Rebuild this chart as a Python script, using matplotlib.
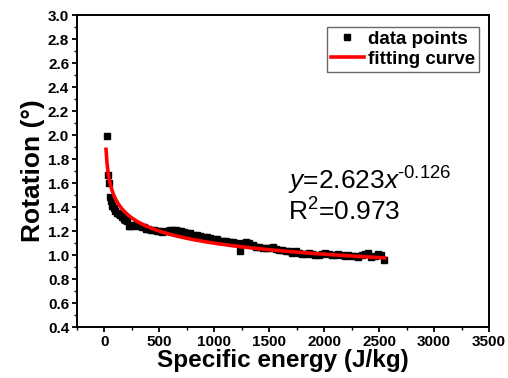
import numpy as np
import matplotlib
matplotlib.use("Agg")
import matplotlib.pyplot as plt
from matplotlib.ticker import MultipleLocator

plt.rcParams['font.family'] = ['Liberation Sans', 'DejaVu Sans']
plt.rcParams['mathtext.fontset'] = 'custom'
plt.rcParams['mathtext.rm'] = 'Liberation Sans'
plt.rcParams['mathtext.it'] = 'Liberation Sans:italic'
plt.rcParams['mathtext.bf'] = 'Liberation Sans:bold'

# Data points (specific energy J/kg, rotation deg)
energy = [20, 30, 40, 50, 60, 70, 85, 100, 115, 130, 145, 160, 175, 190, 205,
          220, 235, 250, 265, 280, 300, 320, 340, 360, 380, 400, 425, 450, 475,
          500, 525, 550, 575, 600, 625, 650, 675, 700, 725, 750, 780, 810, 840,
          870, 900, 930, 960, 990, 1020, 1050, 1080, 1110, 1140, 1170, 1200,
          1230, 1260, 1290, 1320, 1350, 1380, 1410, 1440, 1470, 1500, 1530,
          1560, 1590, 1620, 1650, 1680, 1710, 1740, 1770, 1800, 1830, 1860,
          1890, 1920, 1950, 1980, 2010, 2040, 2070, 2100, 2130, 2160, 2190,
          2220, 2250, 2280, 2310, 2340, 2370, 2400, 2430, 2460, 2490, 2520, 2545]
rotation = [1.99, 1.67, 1.60, 1.48, 1.45, 1.41, 1.39, 1.37, 1.35, 1.34, 1.33,
            1.32, 1.30, 1.29, 1.28, 1.24, 1.24, 1.25, 1.24, 1.25, 1.25, 1.24,
            1.23, 1.23, 1.22, 1.22, 1.21, 1.21, 1.20, 1.20, 1.19, 1.20, 1.20,
            1.21, 1.21, 1.21, 1.20, 1.20, 1.19, 1.18, 1.18, 1.17, 1.17, 1.16,
            1.15, 1.15, 1.14, 1.13, 1.13, 1.12, 1.12, 1.12, 1.11, 1.11, 1.10,
            1.03, 1.10, 1.11, 1.10, 1.08, 1.07, 1.07, 1.06, 1.06, 1.06, 1.07,
            1.05, 1.04, 1.04, 1.03, 1.03, 1.02, 1.03, 1.02, 1.01, 1.01, 1.02,
            1.01, 1.00, 1.00, 1.01, 1.02, 1.01, 1.00, 1.00, 1.01, 1.00, 0.99,
            1.00, 0.99, 0.99, 0.98, 1.00, 1.01, 1.02, 0.98, 0.99, 1.01, 1.00, 0.96]

# Power-law fit y = a * x^b
fit_a = 2.623
fit_b = -0.126
fit_xmin, fit_xmax = 14, 2550

xticks = [0, 500, 1000, 1500, 2000, 2500, 3000, 3500]
yticks = [0.4, 0.6, 0.8, 1.0, 1.2, 1.4, 1.6, 1.8, 2.0, 2.2, 2.4, 2.6, 2.8, 3.0]

fig = plt.figure(figsize=(5.08, 3.78), dpi=100)
ax = fig.add_axes([0.1516, 0.1349, 0.8110, 0.8254])

ax.plot(energy, rotation, 's', color='black', markersize=4.3, label='data points',
        zorder=2)
xf = np.linspace(fit_xmin, fit_xmax, 600)
ax.plot(xf, fit_a * xf ** fit_b, '-', color='#ff0000', lw=2.6, label='fitting curve',
        zorder=3)

ax.set_xlim(-250, 3500)
ax.set_ylim(0.4, 3.0)
ax.set_xticks(xticks)
ax.set_yticks(yticks)
ax.set_xticklabels([str(v) for v in xticks])
ax.set_yticklabels([f"{v:.1f}" for v in yticks])
ax.xaxis.set_minor_locator(MultipleLocator(250))
ax.yaxis.set_minor_locator(MultipleLocator(0.1))
ax.tick_params(which='major', direction='out', length=3.6, width=1.3,
               labelsize=11, pad=2)
ax.tick_params(which='minor', direction='out', length=2, width=1.0)
for lab in ax.get_xticklabels() + ax.get_yticklabels():
    lab.set_fontweight('bold')
for s in ax.spines.values():
    s.set_linewidth(1.4)

ax.set_xlabel('Specific energy (J/kg)', fontsize=17.5, fontweight='bold', labelpad=0)
ax.set_ylabel('Rotation (°)', fontsize=19, fontweight='bold', labelpad=2)

ax.text(0.512, 0.439, r'$\mathit{y}$=2.623$\mathit{x}$$^{\text{-0.126}}$',
        transform=ax.transAxes, fontsize=19, ha='left', va='baseline')
ax.text(0.512, 0.340, r'R$^{2}$=0.973', transform=ax.transAxes,
        fontsize=19, ha='left', va='baseline')

leg = ax.legend(loc='upper right', bbox_to_anchor=(0.9757, 0.9615), frameon=True,
                fancybox=False, edgecolor='#444444',
                prop={'weight': 'bold', 'size': 13.5}, handlelength=1.8,
                handletextpad=0.2, borderpad=0.2, labelspacing=0.15,
                borderaxespad=0)
leg.get_frame().set_linewidth(1.0)

fig.savefig('out.png', dpi=100)
